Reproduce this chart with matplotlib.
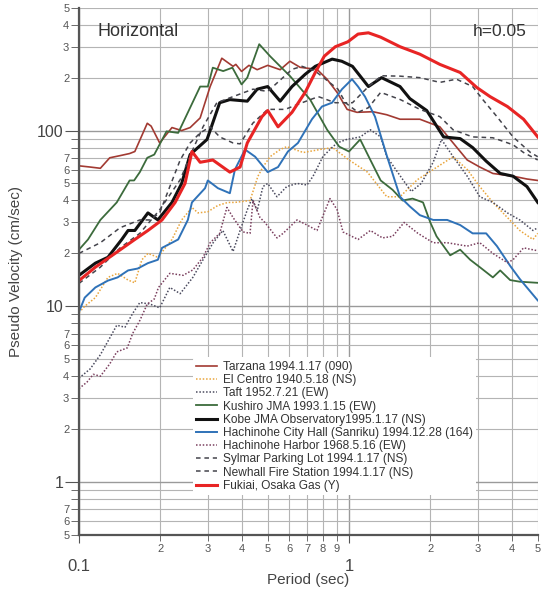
import matplotlib
matplotlib.use("Agg")
import matplotlib.pyplot as plt
from matplotlib.ticker import FixedLocator, FixedFormatter

plt.rcParams['font.family'] = ['Liberation Sans', 'DejaVu Sans']

# ---- data: period (sec) / pseudo velocity (cm/sec) ----
tarzana_t = [0.1, 0.11, 0.12, 0.13, 0.142, 0.154, 0.161, 0.179, 0.185, 0.199, 0.221, 0.24, 0.258,
             0.281, 0.306, 0.338, 0.372, 0.381, 0.4, 0.426, 0.457, 0.5, 0.556, 0.604, 0.659, 0.761,
             0.829, 0.903, 0.984, 1.07, 1.227, 1.38, 1.545, 1.83, 2.17, 2.43, 2.74, 3.05, 3.41,
             4.05, 4.56, 5.0]
tarzana_v = [63, 62, 61, 70, 72, 74, 76, 110, 106, 85, 104, 100, 104,
             118, 178, 258, 232, 238, 217, 235, 222, 235, 222, 248, 229, 223,
             196, 165, 132, 127, 128, 123, 116, 116, 105, 85, 68, 62, 57,
             55, 53, 52]

elcentro_t = [0.1, 0.105, 0.115, 0.128, 0.139, 0.152, 0.161, 0.171, 0.18, 0.196, 0.221, 0.24, 0.262,
              0.276, 0.3, 0.327, 0.356, 0.378, 0.43, 0.46, 0.48, 0.51, 0.556, 0.588, 0.677, 0.78,
              0.87, 1.0, 1.17, 1.38, 1.545, 1.79, 2.05, 2.43, 2.74, 3.05, 3.41, 3.86, 4.29, 4.8, 5.0]
elcentro_v = [9.2, 10, 11.2, 14.6, 15.4, 14.1, 13.6, 18.4, 20, 19, 24, 31, 36.5,
              34, 34.5, 37.5, 39, 39, 40, 55, 62, 71, 78, 81, 75, 78,
              80, 68, 58, 42, 42, 52.5, 60, 71, 60, 48, 39, 32, 27, 24, 26]

taft_t = [0.1, 0.11, 0.12, 0.13, 0.138, 0.148, 0.158, 0.168, 0.183, 0.199, 0.217, 0.237, 0.264,
          0.288, 0.314, 0.341, 0.372, 0.395, 0.42, 0.437, 0.457, 0.48, 0.5, 0.541, 0.588, 0.642,
          0.699, 0.736, 0.8, 0.85, 0.903, 0.98, 1.1, 1.2, 1.31, 1.38, 1.55, 1.7, 1.85, 2.05, 2.2,
          2.43, 2.74, 3.05, 3.41, 3.86, 4.29, 4.8, 5.0]
taft_v = [3.9, 4.4, 5.3, 6.6, 7.8, 7.6, 9.1, 10.5, 10.3, 9.8, 12.8, 11.8, 14.6,
          18.4, 23, 27, 20.5, 27, 35.4, 41, 35, 48, 50, 42, 48, 50,
          49, 55, 71, 78, 85, 89, 92, 101, 92, 71, 55, 45, 50, 66, 89,
          71, 55, 42, 39, 34, 31, 27, 28]

kushiro_t = [0.1, 0.108, 0.12, 0.138, 0.154, 0.16, 0.168, 0.179, 0.19, 0.211, 0.233, 0.281, 0.3,
             0.313, 0.342, 0.37, 0.4, 0.42, 0.465, 0.51, 0.556, 0.605, 0.718, 0.83, 0.92, 1.0,
             1.1, 1.2, 1.31, 1.45, 1.58, 1.72, 1.88, 2.0, 2.11, 2.37, 2.58, 2.81, 3.05, 3.41,
             3.63, 3.95, 4.29, 5.0]
kushiro_v = [21, 24, 31, 39, 52, 52, 58, 70, 73, 99, 97, 178, 178,
             228, 218, 228, 183, 200, 310, 265, 232, 204, 150, 101, 81, 76,
             89, 68, 52, 46, 40, 41, 39, 30, 25, 19.5, 21, 18.4, 16.7, 14.6,
             16, 14.1, 13.8, 13.6]

kobe_t = [0.1, 0.115, 0.128, 0.144, 0.152, 0.161, 0.18, 0.196, 0.221, 0.24, 0.258, 0.298, 0.332,
          0.362, 0.42, 0.457, 0.5, 0.556, 0.615, 0.688, 0.75, 0.866, 0.94, 1.03, 1.18, 1.32,
          1.545, 1.68, 1.94, 2.24, 2.58, 2.87, 3.22, 3.63, 4.05, 4.56, 5.0]
kobe_v = [15, 17.6, 19, 24, 27, 27, 34, 31, 39, 50, 73, 89, 144,
          150, 147, 172, 178, 147, 178, 209, 232, 255, 248, 232, 178, 200,
          178, 152, 130, 92, 90, 80, 67, 57, 55, 48, 39]

hcity_t = [0.1, 0.105, 0.115, 0.128, 0.139, 0.152, 0.165, 0.18, 0.196, 0.203, 0.221, 0.233, 0.253,
           0.262, 0.293, 0.3, 0.327, 0.362, 0.378, 0.412, 0.449, 0.5, 0.546, 0.594, 0.647, 0.729,
           0.794, 0.865, 0.942, 1.026, 1.08, 1.146, 1.248, 1.38, 1.545, 1.68, 1.83, 2.05, 2.31,
           2.58, 2.87, 3.22, 3.53, 3.95, 4.29, 5.0]
hcity_v = [9.3, 11.2, 12.8, 14, 14.6, 16, 16.4, 17.6, 18.4, 21.5, 23, 24, 31,
           39, 47, 52, 47, 44, 60, 78, 71, 58, 62, 76, 85, 116,
           137, 144, 172, 196, 178, 156, 120, 72, 42, 37, 33, 31, 31,
           29, 26, 26, 22, 17, 14.3, 10.8]

hharbor_t = [0.1, 0.107, 0.113, 0.12, 0.13, 0.138, 0.151, 0.158, 0.168, 0.179, 0.19, 0.197, 0.217,
             0.243, 0.264, 0.288, 0.306, 0.332, 0.353, 0.372, 0.405, 0.43, 0.441, 0.468, 0.488,
             0.541, 0.57, 0.642, 0.699, 0.761, 0.85, 0.903, 0.95, 1.08, 1.2, 1.33, 1.45, 1.6,
             1.8, 2.05, 2.31, 2.74, 3.05, 3.41, 3.86, 4.05, 4.43, 5.0]
hharbor_v = [3.4, 3.7, 4.1, 4.0, 4.7, 5.5, 5.8, 7.0, 8.3, 10.3, 11, 12.8, 15.4,
             15, 16.1, 19, 23, 26, 36.5, 32, 26.5, 26, 40, 32, 30,
             24.5, 26, 31, 29, 27, 41, 35.5, 26.5, 24, 27, 24.5, 25, 30,
             26, 23, 23, 22, 23, 20, 17.7, 18.4, 21.5, 20.7]

sylmar_t = [0.1, 0.12, 0.142, 0.168, 0.199, 0.237, 0.264, 0.288, 0.324, 0.372, 0.441, 0.5, 0.615,
            0.67, 0.75, 0.91, 0.97, 1.08, 1.18, 1.31, 1.55, 1.83, 2.17, 2.43, 2.87, 3.41, 4.05,
            4.43, 5.0]
sylmar_v = [13.5, 16.7, 21.5, 26, 35.4, 52.5, 78, 105, 144, 156, 172, 167, 223,
            232, 218, 172, 144, 127, 135, 165, 150, 132, 120, 101, 92, 91, 83,
            75, 68]

newhall_t = [0.1, 0.12, 0.142, 0.168, 0.183, 0.199, 0.217, 0.237, 0.258, 0.281, 0.306, 0.332, 0.372,
             0.395, 0.44, 0.5, 0.58, 0.67, 0.77, 0.89, 1.03, 1.18, 1.32, 1.545, 1.83, 2.17, 2.5,
             2.87, 3.13, 3.53, 4.05, 4.7, 5.0]
newhall_v = [20, 23, 28, 31, 31, 34, 48, 68, 85, 97, 105, 92, 85,
             84, 110, 132, 132, 144, 156, 144, 144, 178, 205, 204, 200, 188, 196,
             178, 150, 120, 92, 75, 71]

fukiai_t = [0.1, 0.115, 0.136, 0.161, 0.18, 0.203, 0.227, 0.247, 0.262, 0.281, 0.313, 0.362, 0.395,
            0.42, 0.476, 0.5, 0.546, 0.615, 0.688, 0.75, 0.81, 0.89, 0.99, 1.08, 1.18, 1.31,
            1.545, 1.83, 2.17, 2.58, 2.97, 3.33, 3.86, 4.43, 5.0]
fukiai_v = [14, 16.7, 20, 24, 27, 31, 39, 50, 76, 66, 68, 58, 62,
            85, 120, 130, 105, 127, 165, 214, 265, 300, 320, 354, 360, 340,
            300, 272, 238, 214, 176, 156, 137, 116, 92]

labels = ["Tarzana 1994.1.17 (090)",
          "El Centro 1940.5.18 (NS)",
          "Taft 1952.7.21 (EW)",
          "Kushiro JMA 1993.1.15 (EW)",
          "Kobe JMA Observatory1995.1.17 (NS)",
          "Hachinohe City Hall (Sanriku) 1994.12.28 (164)",
          "Hachinohe Harbor 1968.5.16 (EW)",
          "Sylmar Parking Lot 1994.1.17 (NS)",
          "Newhall Fire Station 1994.1.17 (NS)",
          "Fukiai, Osaka Gas (Y)"]

x_minor = [0.2, 0.3, 0.4, 0.5, 0.6, 0.7, 0.8, 0.9, 2, 3, 4, 5]
x_minor_lbl = ["2", "3", "4", "5", "6", "7", "8", "9", "2", "3", "4", "5"]
y_minor = [0.5, 0.6, 0.7, 0.8, 0.9, 2, 3, 4, 5, 6, 7, 8, 9,
           20, 30, 40, 50, 60, 70, 80, 90, 200, 300, 400, 500]
y_minor_lbl = ["5", "6", "7", "", "", "2", "3", "4", "5", "6", "7", "", "",
               "2", "3", "4", "5", "6", "7", "", "", "2", "3", "4", "5"]

fig = plt.figure(figsize=(5.41, 5.95), dpi=100)
ax = fig.add_axes([0.146, 0.101, 0.848, 0.886])

series = [
    (tarzana_t, tarzana_v, dict(color="#a23a32", lw=1.2, ls="-")),
    (elcentro_t, elcentro_v, dict(color="#e9a53c", lw=1.1, ls=(0, (1, 1.2)))),
    (taft_t, taft_v, dict(color="#4a4a5e", lw=1.1, ls=(0, (1, 1.2)))),
    (kushiro_t, kushiro_v, dict(color="#3c6b3c", lw=1.3, ls="-")),
    (kobe_t, kobe_v, dict(color="#111111", lw=2.2, ls="-")),
    (hcity_t, hcity_v, dict(color="#2f72b8", lw=1.4, ls="-")),
    (hharbor_t, hharbor_v, dict(color="#7a3f5e", lw=1.1, ls=(0, (1, 1.2)))),
    (sylmar_t, sylmar_v, dict(color="#44444c", lw=1.1, ls=(0, (3, 2.5)))),
    (newhall_t, newhall_v, dict(color="#44444c", lw=1.1, ls=(0, (3, 2.5)))),
    (fukiai_t, fukiai_v, dict(color="#e82424", lw=2.2, ls="-")),
]
for (t, v, st), lab in zip(series, labels):
    ax.plot(t, v, label=lab, **st)

ax.set_xscale("log")
ax.set_yscale("log")
ax.set_xlim(0.1, 5)
ax.set_ylim(0.5, 500)

ax.xaxis.set_major_locator(FixedLocator([0.1, 1]))
ax.xaxis.set_major_formatter(FixedFormatter(["0.1", "1"]))
ax.xaxis.set_minor_locator(FixedLocator(x_minor))
ax.xaxis.set_minor_formatter(FixedFormatter(x_minor_lbl))
ax.yaxis.set_major_locator(FixedLocator([1, 10, 100]))
ax.yaxis.set_major_formatter(FixedFormatter(["1", "10", "100"]))
ax.yaxis.set_minor_locator(FixedLocator(y_minor))
ax.yaxis.set_minor_formatter(FixedFormatter(y_minor_lbl))

ax.tick_params(axis="x", which="major", labelsize=12, pad=11, length=6, color="#555555", labelcolor="#444444")
ax.tick_params(axis="x", which="minor", labelsize=8, pad=2.5, length=4, color="#555555", labelcolor="#555555")
ax.tick_params(axis="y", which="major", labelsize=11.5, pad=1, length=10, color="#555555", labelcolor="#444444")
ax.tick_params(axis="y", which="minor", labelsize=8, pad=1.5, length=5.5, color="#555555", labelcolor="#555555")

ax.grid(which="major", color="#9a9a9a", lw=1.0)
ax.grid(which="minor", color="#b4b4b4", lw=0.8)
ax.set_axisbelow(True)
for s in ["top", "right"]:
    ax.spines[s].set_visible(False)
for s in ["left", "bottom"]:
    ax.spines[s].set_color("#555555")
    ax.spines[s].set_linewidth(1.6)

ax.set_xlabel("Period (sec)", fontsize=11, color="#444444")
ax.xaxis.set_label_coords(0.5, -0.073)
ax.set_ylabel("Pseudo Velocity (cm/sec)", fontsize=11, color="#444444", labelpad=10)

ax.text(0.04, 0.955, "Horizontal", transform=ax.transAxes, fontsize=13, color="#333333", va="center")
ax.text(0.975, 0.955, "h=0.05", transform=ax.transAxes, fontsize=12.5, color="#333333", va="center", ha="right")

leg = ax.legend(loc="upper left", bbox_to_anchor=(0.235, 0.348), fontsize=8.6,
                frameon=True, facecolor="white", edgecolor="none", framealpha=1,
                handlelength=1.7, handletextpad=0.5, labelspacing=0.1, borderpad=0.3)
for txt in leg.get_texts():
    txt.set_color("#333333")

fig.savefig("out.png", dpi=100)
